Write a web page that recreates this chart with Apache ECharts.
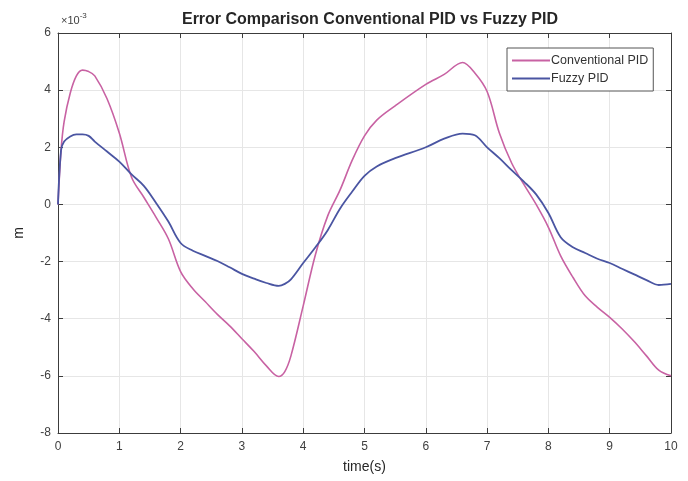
<!DOCTYPE html>
<html>
<head>
<meta charset="utf-8">
<script src="https://cdn.jsdelivr.net/npm/echarts@6/dist/echarts.min.js"></script>
<style>
  html, body { margin: 0; padding: 0; background: #fff; }
  #chart { width: 688px; height: 481px; }
</style>
</head>
<body>
<div id="chart"></div>
<script>
// Sample times (s)
const times = [0, 0.05, 0.1, 0.2, 0.3, 0.4, 0.5, 0.6, 0.8, 1.0, 1.2, 1.4, 1.6, 1.8, 2.0,
  2.2, 2.4, 2.6, 2.8, 3.0, 3.2, 3.4, 3.6, 3.7, 3.8, 4.0, 4.2, 4.4, 4.6, 4.8, 5.0,
  5.2, 5.5, 6.0, 6.3, 6.6, 6.8, 7.0, 7.2, 7.4, 7.6, 7.8, 8.0, 8.2, 8.4, 8.6, 8.8,
  9.0, 9.2, 9.4, 9.6, 9.8, 10];

// Tracking error, units of 1e-3 m
const conventionalPID = [0, 1.9, 2.9, 3.9, 4.5, 4.7, 4.65, 4.5, 3.7, 2.5, 0.95, 0.25, -0.45, -1.2, -2.35,
  -2.95, -3.4, -3.85, -4.25, -4.7, -5.15, -5.65, -6.02, -5.85, -5.3, -3.55, -1.75, -0.4, 0.5, 1.55, 2.4,
  2.95, 3.45, 4.2, 4.55, 4.97, 4.6, 3.95, 2.5, 1.45, 0.7, 0.0, -0.8, -1.8, -2.55, -3.2, -3.6,
  -3.95, -4.35, -4.8, -5.3, -5.8, -6.0];

const fuzzyPID = [0, 1.9, 2.2, 2.38, 2.45, 2.45, 2.4, 2.2, 1.85, 1.5, 1.05, 0.65, 0.05, -0.6, -1.35,
  -1.62, -1.8, -1.98, -2.2, -2.43, -2.6, -2.75, -2.85, -2.78, -2.62, -2.05, -1.5, -0.9, -0.15, 0.45, 1.0,
  1.33, 1.62, 2.0, 2.3, 2.48, 2.42, 2.0, 1.62, 1.2, 0.8, 0.35, -0.3, -1.15, -1.5, -1.7, -1.9,
  -2.05, -2.25, -2.45, -2.65, -2.82, -2.78];

const seriesNames = ['Conventional PID', 'Fuzzy PID'];
const titleText = 'Error Comparison Conventional PID vs Fuzzy PID';
const xLabel = 'time(s)';
const yLabel = 'm';

const toPairs = vals => times.map((t, i) => [t, vals[i]]);

const axisGray = '#3c3c3c';
const labelGray = '#404040';
const gridGray = '#e6e6e6';
const font = 'Liberation Sans, Arial, sans-serif';

const chart = echarts.init(document.getElementById('chart'), null, { renderer: 'canvas' });

chart.setOption({
  backgroundColor: '#ffffff',
  animation: false,
  title: {
    text: titleText,
    left: 365,
    top: 7,
    textAlign: 'center',
    textStyle: { fontFamily: font, fontSize: 16, fontWeight: 'bold', color: '#262626' }
  },
  grid: { left: 58, right: 17, top: 33, bottom: 48, containLabel: false },
  legend: {
    data: seriesNames,
    orient: 'vertical',
    left: 507,
    top: 48,
    padding: [6, 5, 6, 5],
    itemGap: 5,
    itemWidth: 38,
    itemHeight: 2,
    icon: 'rect',
    borderColor: '#555',
    borderWidth: 1,
    backgroundColor: '#fff',
    textStyle: { fontFamily: font, fontSize: 12.5, color: '#333', padding: [0, 0, 0, -4] }
  },
  xAxis: [{
    type: 'value',
    min: 0, max: 10, interval: 1,
    name: xLabel,
    nameLocation: 'middle',
    nameGap: 27,
    nameTextStyle: { fontFamily: font, fontSize: 14, color: '#262626' },
    axisLine: { onZero: false, lineStyle: { color: axisGray, width: 1 } },
    axisTick: { inside: true, length: 5, lineStyle: { color: axisGray } },
    axisLabel: { fontFamily: font, fontSize: 12, color: labelGray, margin: 8 },
    splitLine: { show: true, lineStyle: { color: gridGray, width: 1 } }
  }, {
    type: 'value',
    position: 'top',
    min: 0, max: 10, interval: 1,
    axisLine: { onZero: false, lineStyle: { color: axisGray, width: 1 } },
    axisTick: { inside: true, length: 5, lineStyle: { color: axisGray } },
    axisLabel: { show: false },
    splitLine: { show: false }
  }],
  yAxis: [{
    type: 'value',
    min: -8, max: 6, interval: 2,
    name: yLabel,
    nameLocation: 'middle',
    nameGap: 32,
    nameRotate: 90,
    nameTextStyle: { fontFamily: font, fontSize: 14, color: '#262626' },
    axisLine: { show: true, onZero: false, lineStyle: { color: axisGray, width: 1 } },
    axisTick: { show: true, inside: true, length: 5, lineStyle: { color: axisGray } },
    axisLabel: { fontFamily: font, fontSize: 12, color: labelGray, margin: 7 },
    splitLine: { show: true, lineStyle: { color: gridGray, width: 1 } }
  }, {
    type: 'value',
    position: 'right',
    min: -8, max: 6, interval: 2,
    axisLine: { show: true, onZero: false, lineStyle: { color: axisGray, width: 1 } },
    axisTick: { show: true, inside: true, length: 5, lineStyle: { color: axisGray } },
    axisLabel: { show: false },
    splitLine: { show: false }
  }],
  graphic: [{
    type: 'text',
    left: 61,
    top: 12,
    style: {
      text: '{b|×10}{s|-3}',
      rich: {
        b: { fontFamily: font, fontSize: 11, fill: labelGray, verticalAlign: 'bottom' },
        s: { fontFamily: font, fontSize: 8, fill: labelGray, verticalAlign: 'top', padding: [0, 0, 6, 0] }
      }
    }
  }],
  series: [{
    name: seriesNames[0],
    type: 'line',
    data: toPairs(conventionalPID),
    smooth: 0.35,
    symbol: 'none',
    lineStyle: { color: '#c862a3', width: 1.6 },
    itemStyle: { color: '#c862a3' },
    z: 3
  }, {
    name: seriesNames[1],
    type: 'line',
    data: toPairs(fuzzyPID),
    smooth: 0.35,
    symbol: 'none',
    lineStyle: { color: '#4a55a2', width: 1.8 },
    itemStyle: { color: '#4a55a2' },
    z: 4
  }]
});
</script>
</body>
</html>
